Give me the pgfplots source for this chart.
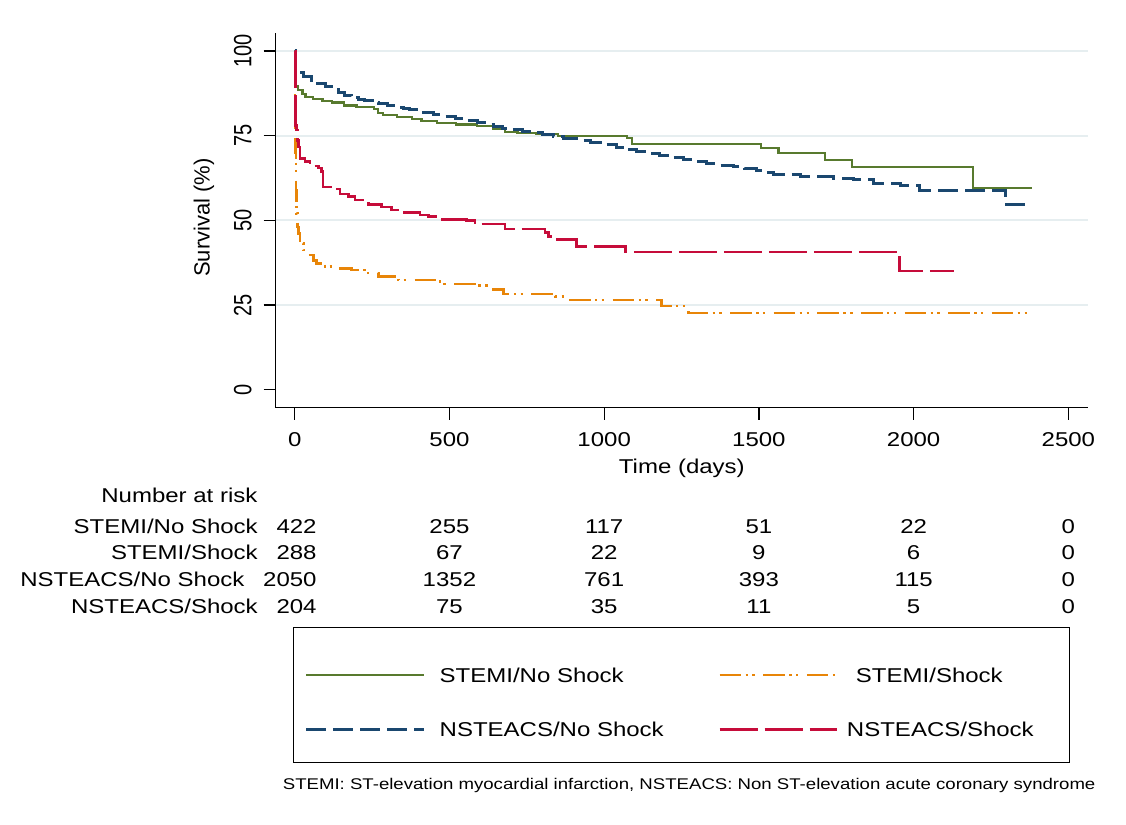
\documentclass[border=0pt]{standalone}
\usepackage{fontspec}
\setmainfont{Liberation Sans}
\usepackage{graphicx}
\usepackage{pgfplots}
\usepackage{pgfplotstable}
\pgfplotsset{compat=1.18}
\definecolor{cgreen}{RGB}{88,122,46}
\definecolor{corange}{RGB}{232,133,8}
\definecolor{cblue}{RGB}{26,71,111}
\definecolor{cred}{RGB}{198,12,58}
\definecolor{cgrid}{RGB}{230,238,240}
\newcommand{\hs}[1]{\scalebox{1.2}[1]{#1}}
\newcommand{\vs}[1]{\scalebox{1}[1.25]{#1}}

% STEMI / No Shock
\pgfplotstableread{
d s
0 100
2 89.5
10 88.5
25 87.3
35 86.5
60 85.8
90 85.3
120 84.8
160 83.9
200 83.5
255 82.8
270 81.8
285 81.0
330 80.6
380 79.9
410 79.3
460 78.8
520 78.3
590 77.8
640 76.9
680 76.2
720 75.9
780 75.6
850 75.0
1073 74.4
1089 72.5
1507 71.3
1563 69.8
1714 67.8
1802 65.7
2191 59.6
2382 59.6
}\tgreen
% STEMI / Shock
\pgfplotstableread{
d s
0 100
1 78
2 70
4 59
6 52.1
9 48
12 46.2
17 43.2
28 41.2
44 39.8
60 38.2
71 37.3
98 36.3
141 35.8
184 35.3
233 34.4
270 33.4
335 32.4
470 31.2
588 30.7
626 29.6
674 28.3
841 27.5
879 26.5
1186 24.7
1272 22.6
2377 22.6
}\torange
% NSTEACS / No Shock
\pgfplotstableread{
d s
0 100
3 94.5
10 93.6
30 92.5
55 91.2
75 90.4
98 89.5
120 88.6
141 87.7
162 87.0
184 86.3
205 85.8
227 85.3
250 84.8
270 84.4
300 83.8
324 83.3
350 83.0
370 82.8
395 82.3
416 81.9
450 81.3
480 80.8
520 80.1
556 79.4
590 78.9
620 78.4
642 77.6
670 77.2
696 76.7
735 76.3
771 75.9
800 75.4
836 74.9
870 74.3
911 73.7
955 73.1
997 72.5
1040 71.6
1070 71.0
1105 70.3
1140 69.7
1180 69.0
1220 68.5
1256 68.0
1295 67.4
1331 66.8
1375 66.3
1417 65.8
1455 65.3
1493 64.7
1520 64.0
1547 63.4
1633 62.9
1741 62.4
1805 62.1
1870 60.9
1956 60.3
2020 58.8
2296 54.7
2360 54.7
}\tblue
% NSTEACS / Shock
\pgfplotstableread{
d s
0 100
3 78
6 76.7
9 73.5
12 71.7
17 68.3
33 67.3
49 66.0
76 65.4
87 64.4
92 59.9
130 59.2
146 57.8
173 57.0
195 56.0
238 54.7
281 54.0
313 53.1
346 52.4
405 51.6
432 51.1
470 50.3
556 49.9
583 48.9
680 47.4
809 46.4
820 45.2
841 44.4
911 42.3
1068 40.7
1954 35.1
2131 35.1
}\tred

\begin{document}
\begin{tikzpicture}
\useasboundingbox (-137.85pt,-208.65pt) rectangle (425.15pt,203.85pt);
\begin{axis}[
  at={(0pt,0pt)}, anchor=south west,
  scale only axis, width=406.15pt, height=187.35pt,
  xmin=-61.4, xmax=2563.4, ymin=-5.31, ymax=105.31,
  clip=false,
  axis lines=left, axis line style={-, line width=0.6pt},
  tick align=outside, major tick length=6pt,
  tick style={black, line width=0.6pt},
  xtick={0,500,1000,1500,2000,2500},
  xticklabels={\hs{0},\hs{500},\hs{1000},\hs{1500},\hs{2000},\hs{2500}},
  ytick={0,25,50,75,100},
  yticklabels={\vs{0},\vs{25},\vs{50},\vs{75},\vs{100}},
  yticklabel style={rotate=90, anchor=south},
  xticklabel shift=3pt, yticklabel shift=2.5pt,
  extra y ticks={25,50,75,100}, extra y tick labels={},
  extra y tick style={grid=major, major tick length=0pt},
  major grid style={cgrid, line width=1pt},
  xlabel={\hs{Time (days)}},
  ylabel={Survival (\%)},
  every axis x label/.style={at={(axis description cs:0.5,-0.161)}, anchor=center},
  every axis y label/.style={at={(axis description cs:-0.0883,0.5076)}, anchor=center, rotate=90, font=\fontsize{11}{13}\selectfont},
  legend columns=2,
  legend style={at={(axis description cs:0.0213,-0.5853)}, anchor=north west,
    draw=black, line width=0.5pt, inner xsep=0pt, inner ysep=11.3pt, column sep=0pt, row sep=0pt,
    nodes={inner sep=0pt, anchor=base west}, cells={anchor=base west}},
  legend image code/.code={\path[draw=none] (0pt,0pt) -- (6.35pt,0pt); \draw[#1] (6.35pt,3.6pt) -- (65.15pt,3.6pt);},
]
\addplot[const plot, cgreen, line width=1.1pt] table[x=d, y=s] {\tgreen};
\addlegendentry{\makebox[140.85pt][l]{\rule{0pt}{15.95pt}\hspace{7.2pt}\hs{STEMI/No Shock}}}
\addplot[const plot, corange, line width=1.3pt, dash pattern=on 10.8pt off 2.2pt on 1.2pt off 2.2pt on 1.2pt off 4.2pt] table[x=d, y=s] {\torange};
\addlegendentry{\makebox[115.35pt][l]{\rule{0pt}{15.95pt}\hspace{8.7pt}\hs{STEMI/Shock}}}
\addplot[const plot, cblue, line width=1.5pt, dash pattern=on 10pt off 3.5pt] table[x=d, y=s] {\tblue};
\addlegendentry{\makebox[140.85pt][l]{\rule{0pt}{25.95pt}\hspace{7.2pt}\hs{NSTEACS/No Shock}}}
\addplot[const plot, cred, line width=1.3pt, dash pattern=on 19pt off 3.5pt] table[x=d, y=s] {\tred};
\addlegendentry{\makebox[115.35pt][l]{\rule{0pt}{25.95pt}\hspace{4.2pt}\hs{NSTEACS/Shock}}}

% Number at risk table
\node[anchor=base west, inner sep=0pt] at (axis cs:-625.9,-33.16) {\hs{Number at risk}};

\node[anchor=base east, inner sep=0pt] (a1) at (axis cs:72,-42.31) {\hs{422}};
\node[anchor=base east, inner sep=0pt] at ([xshift=-9pt]a1.base west) {\hs{STEMI/No Shock}};
\node[anchor=base, inner sep=0pt] at (axis cs:500,-42.31) {\hs{255}};
\node[anchor=base, inner sep=0pt] at (axis cs:1000,-42.31) {\hs{117}};
\node[anchor=base, inner sep=0pt] at (axis cs:1500,-42.31) {\hs{51}};
\node[anchor=base, inner sep=0pt] at (axis cs:2000,-42.31) {\hs{22}};
\node[anchor=base, inner sep=0pt] at (axis cs:2500,-42.31) {\hs{0}};

\node[anchor=base east, inner sep=0pt] (a2) at (axis cs:72,-50.04) {\hs{288}};
\node[anchor=base east, inner sep=0pt] at ([xshift=-9pt]a2.base west) {\hs{STEMI/Shock}};
\node[anchor=base, inner sep=0pt] at (axis cs:500,-50.04) {\hs{67}};
\node[anchor=base, inner sep=0pt] at (axis cs:1000,-50.04) {\hs{22}};
\node[anchor=base, inner sep=0pt] at (axis cs:1500,-50.04) {\hs{9}};
\node[anchor=base, inner sep=0pt] at (axis cs:2000,-50.04) {\hs{6}};
\node[anchor=base, inner sep=0pt] at (axis cs:2500,-50.04) {\hs{0}};

\node[anchor=base east, inner sep=0pt] (a3) at (axis cs:72,-58.02) {\hs{2050}};
\node[anchor=base east, inner sep=0pt] at ([xshift=-9pt]a3.base west) {\hs{NSTEACS/No Shock}};
\node[anchor=base, inner sep=0pt] at (axis cs:500,-58.02) {\hs{1352}};
\node[anchor=base, inner sep=0pt] at (axis cs:1000,-58.02) {\hs{761}};
\node[anchor=base, inner sep=0pt] at (axis cs:1500,-58.02) {\hs{393}};
\node[anchor=base, inner sep=0pt] at (axis cs:2000,-58.02) {\hs{115}};
\node[anchor=base, inner sep=0pt] at (axis cs:2500,-58.02) {\hs{0}};

\node[anchor=base east, inner sep=0pt] (a4) at (axis cs:72,-65.93) {\hs{204}};
\node[anchor=base east, inner sep=0pt] at ([xshift=-9pt]a4.base west) {\hs{NSTEACS/Shock}};
\node[anchor=base, inner sep=0pt] at (axis cs:500,-65.93) {\hs{75}};
\node[anchor=base, inner sep=0pt] at (axis cs:1000,-65.93) {\hs{35}};
\node[anchor=base, inner sep=0pt] at (axis cs:1500,-65.93) {\hs{11}};
\node[anchor=base, inner sep=0pt] at (axis cs:2000,-65.93) {\hs{5}};
\node[anchor=base, inner sep=0pt] at (axis cs:2500,-65.93) {\hs{0}};

% footnote
\node[anchor=base west, inner sep=0pt] at (axis cs:-39.4,-117.9) {\fontsize{7.75}{9}\selectfont\hs{STEMI: ST-elevation myocardial infarction, NSTEACS: Non ST-elevation acute coronary syndrome}};
\end{axis}
\end{tikzpicture}
\end{document}
